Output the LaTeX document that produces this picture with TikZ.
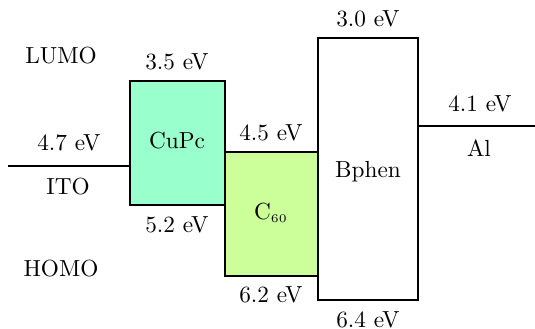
\documentclass[tikz,border=0pt]{standalone}
\usepackage{tikz}
\usetikzlibrary{positioning}
\definecolor{cupcfill}{HTML}{99FFCC}
\definecolor{csixtyfill}{HTML}{CCFF99}

\begin{document}
\begin{tikzpicture}[x=0.43pt, y=-0.43pt, level/.style={draw=black, line width=0.5pt}]
  \useasboundingbox (0,0) rectangle (535,329);
  % Electrode work functions
  \draw[level] (8,166) -- (130,166);
  \draw[level] (418,126) -- (535,126);
  % Organic layers (LUMO top, HOMO bottom)
  \draw[level, fill=cupcfill] (130,81) rectangle (225,205);
  \draw[level, fill=csixtyfill] (225,152) rectangle (318,276);
  \draw[level, fill=white] (318,38) rectangle (418,300);
  % Layer names
  \node (cupc) at (177,141) {CuPc};
  \node (csixty) at (271,213) {C$_{\scriptscriptstyle 60}$};
  \node (bphen) at (368,172) {Bphen};
  \node (ito) at (68,187) {ITO};
  \node (al) at (479,148) {Al};
  % Energy values
  \node (itoval) at (69,143) {4.7 eV};
  \node (cupclumo) at (177,62) {3.5 eV};
  \node (cupchomo) at (177,225) {5.2 eV};
  \node (csixtylumo) at (271,133) {4.5 eV};
  \node (csixtyhomo) at (271,295) {6.2 eV};
  \node (bphenlumo) at (368,19) {3.0 eV};
  \node (bphenhomo) at (368,320) {6.4 eV};
  \node (alval) at (480,104) {4.1 eV};
  % Side labels
  \node (lumo) at (61,56) {LUMO};
  \node (homo) at (61,269) {HOMO};
\end{tikzpicture}
\end{document}
